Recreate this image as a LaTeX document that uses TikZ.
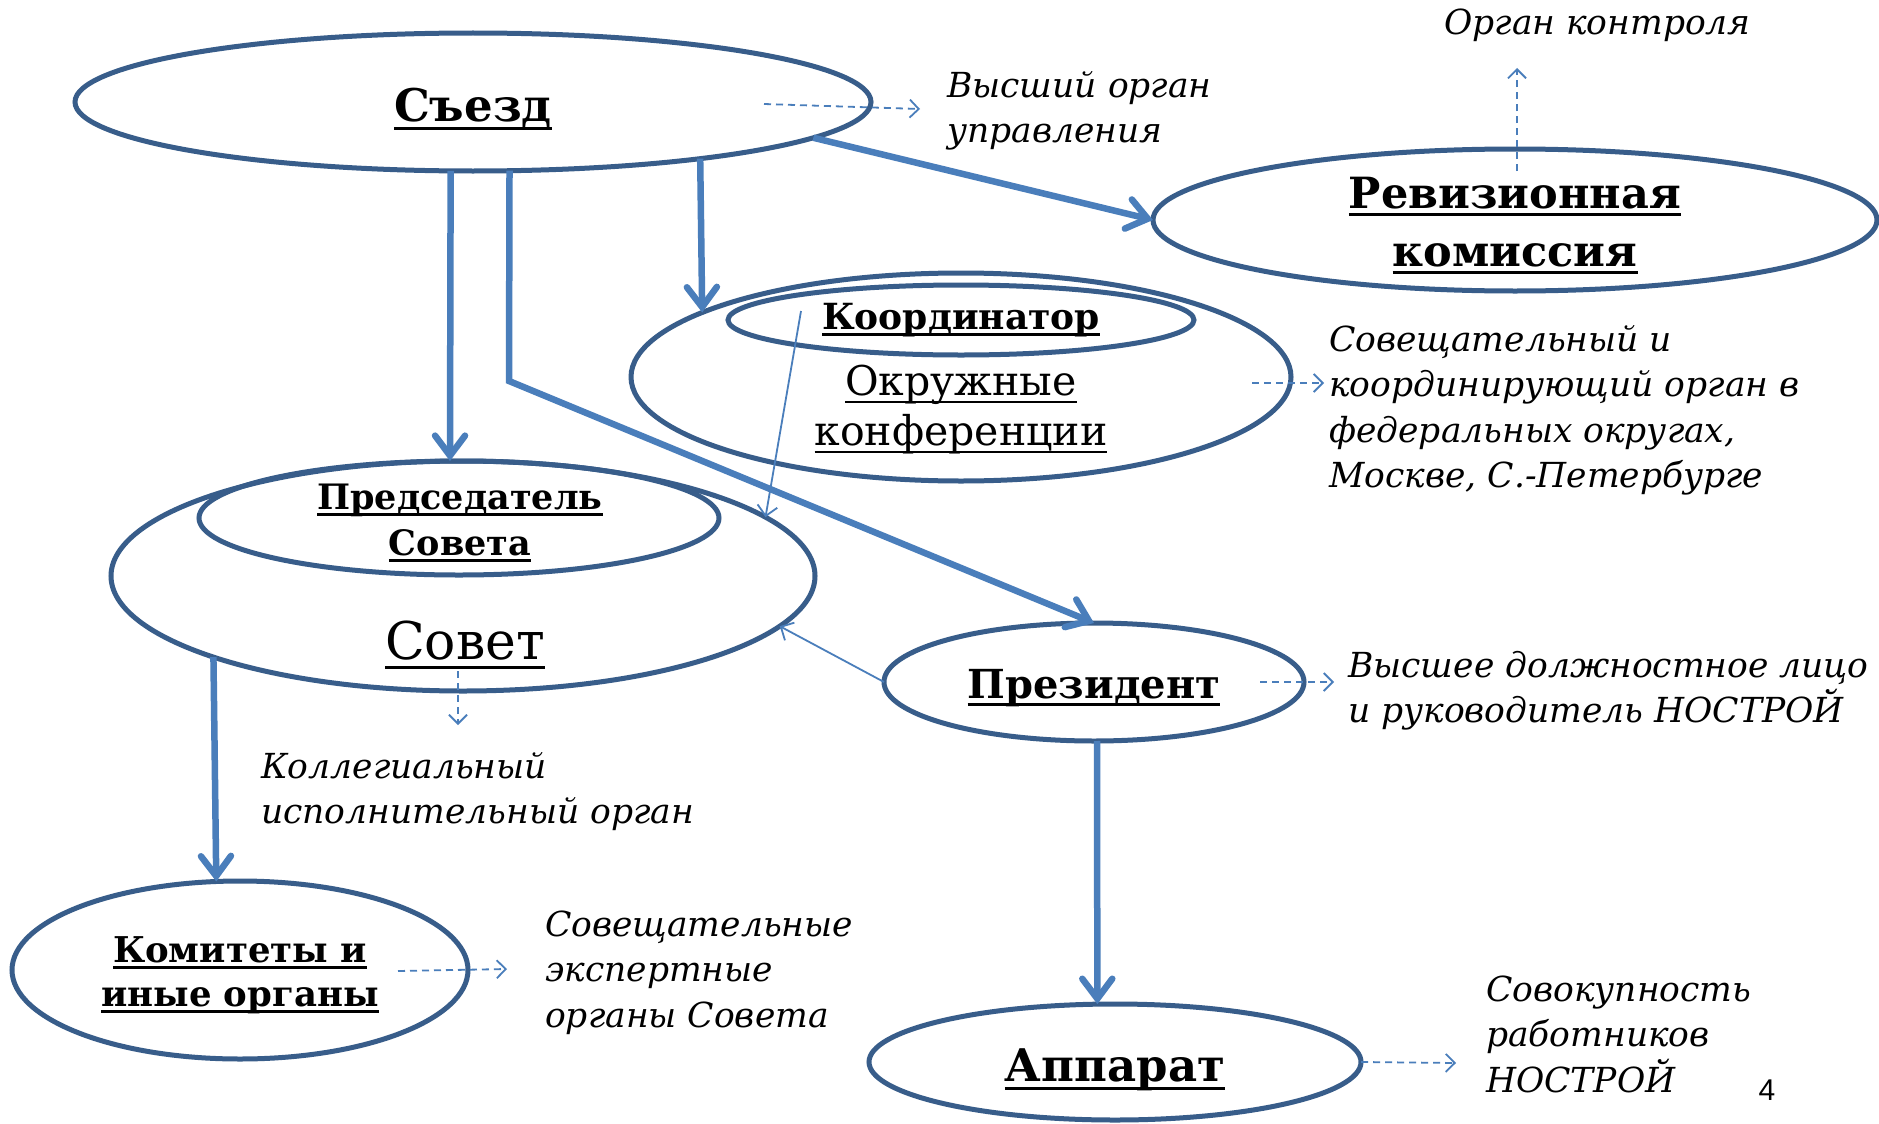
\documentclass[tikz,border=0pt]{standalone}
\usepackage{fontspec}
\setmainfont{DejaVu Serif}
\newfontfamily\numfont{Liberation Sans}
\usetikzlibrary{shapes.geometric,arrows.meta}
\definecolor{edgeblue}{HTML}{385D8A}
\definecolor{arrblue}{HTML}{4A7EBB}
\newcommand\ulbox[2]{\setbox0=\hbox{#2}\rlap{\rule[-0.19em]{\wd0}{#1}}\box0}
\begin{document}
\begin{tikzpicture}[x=1pt,y=-1pt,
  oval/.style={ellipse, draw=edgeblue, line width=5pt, inner sep=0pt, outer sep=0pt},
  mainarr/.style={arrblue, line width=6.5pt, -{Straight Barb[length=20pt,width=30pt,line cap=round]}},
  thinarr/.style={arrblue, line width=1.8pt, -{Straight Barb[length=10pt,width=20pt]}},
  dasharr/.style={arrblue, line width=1.8pt, dash pattern=on 7pt off 5pt, -{Straight Barb[length=9pt,width=18pt]}},
  blab/.style n args={2}{inner sep=0pt, align=center, anchor=base, font=\fontsize{#1}{#2}\selectfont\bfseries},
  rlab/.style n args={2}{inner sep=0pt, align=center, anchor=base, font=\fontsize{#1}{#2}\selectfont},
  note/.style={inner sep=0pt, align=left, anchor=base west, font=\itshape\fontsize{34.5}{45.5}\selectfont}]
\fill[white] (0,0) rectangle (1879,1124);
\useasboundingbox (0,0) rectangle (1879,1124);

% ellipses
\node[oval, minimum width=796pt, minimum height=138pt] (sezd) at (473,102) {};
\node[oval, minimum width=724pt, minimum height=142pt] (rev) at (1515,220) {};
\node[oval, minimum width=660pt, minimum height=208pt] (okr) at (961,377) {};
\node[oval, minimum width=466pt, minimum height=70pt] (koord) at (961,320) {};
\node[oval, minimum width=704pt, minimum height=230pt] (sovet) at (463,576) {};
\node[oval, minimum width=520pt, minimum height=114pt] (pred) at (459,518) {};
\node[oval, minimum width=420pt, minimum height=118pt] (prez) at (1094,682) {};
\node[oval, minimum width=492pt, minimum height=116pt] (app) at (1115,1062) {};
\node[oval, minimum width=456pt, minimum height=178pt] (kom) at (240,970) {};

% labels (multi-line nodes: base = last line)
\node[blab={45}{55}] (sezdt) at (473,121) {\ulbox{3pt}{Съезд}};
\node[blab={43}{58}] (revt) at (1515,266) {\ulbox{3pt}{Ревизионная}\\\ulbox{3pt}{комиссия}};
\node[blab={36}{44}] (koordt) at (961,329) {\ulbox{2.5pt}{Координатор}};
\node[rlab={41}{50}] (okrt) at (961,445) {\ulbox{2pt}{Окружные}\\\ulbox{2pt}{конференции}};
\node[blab={35}{46}] (predt) at (460,555) {\ulbox{2.5pt}{Председатель}\\\ulbox{2.5pt}{Совета}};
\node[rlab={52}{60}] (sovett) at (465,659) {\ulbox{2.5pt}{Совет}};
\node[blab={40}{50}] (prezt) at (1094,698) {\ulbox{3pt}{Президент}};
\node[blab={45}{55}] (appt) at (1115,1081) {\ulbox{3pt}{Аппарат}};
\node[blab={35.5}{44}] (komt) at (240,1006) {\ulbox{2.5pt}{Комитеты и}\\\ulbox{2.5pt}{иные органы}};

% notes
\node[note] (kontr) at (1444,35) {Орган контроля};
\node[note] (vys) at (947,142.5) {Высший орган\\управления};
\node[note] (okrnote) at (1329,487.5) {Совещательный и\\координирующий орган в\\федеральных округах,\\Москве, С.-Петербурге};
\node[note] (preznote) at (1348,722.5) {Высшее должностное лицо\\и руководитель НОСТРОЙ};
\node[note] (kollnote) at (261,823.5) {Коллегиальный\\исполнительный орган};
\node[note] (komnote) at (545,1027) {Совещательные\\экспертные\\органы Совета};
\node[note] (appnote) at (1486,1092) {Совокупность\\работников\\НОСТРОЙ};
\node[inner sep=0pt, font=\numfont\fontsize{30}{36}\selectfont] (num) at (1767,1090) {4};

% main arrows
\coordinate (bend) at (509,381);
\draw[mainarr] (sezd.-6.5) -- (rev.west);
\draw[mainarr] (sezd.-14.3) -- (okr.166.8);
\draw[mainarr] (sezd.-108.4) -- (pred.99);
\draw[mainarr] (sezd.-62.4) -- (bend) -- (prez.north);
\draw[mainarr] (sovet.198.4) -- (kom.105);
\draw[mainarr] (prez.-87.1) -- (app.107.3);

% thin arrows
\coordinate (kst) at (801,311);
\draw[thinarr] (kst) -- (sovet.11.5);
\draw[thinarr] (prez.west) -- (sovet.-9);

% dashed arrows
\coordinate (d1e) at (920,109);
\coordinate (d2e) at (1517,68);
\coordinate (d3e) at (1324,383);
\coordinate (d4e) at (458,725);
\coordinate (d5e) at (1334,682);
\coordinate (d6e) at (507,969);
\coordinate (d7e) at (1456,1063);
\draw[dasharr] ([xshift=291pt,yshift=-2pt]sezd.center) -- (d1e);
\draw[dasharr] ([xshift=2pt,yshift=-22pt]rev.north) -- (d2e);
\draw[dasharr] ([xshift=291pt,yshift=-6pt]okr.center) -- (d3e);
\draw[dasharr] ([xshift=-5pt,yshift=-95pt]sovet.center) -- (d4e);
\draw[dasharr] ([xshift=166pt]prez.center) -- (d5e);
\draw[dasharr] ([xshift=158pt,yshift=-1pt]kom.center) -- (d6e);
\draw[dasharr] (app.east) -- (d7e);
\end{tikzpicture}
\end{document}
